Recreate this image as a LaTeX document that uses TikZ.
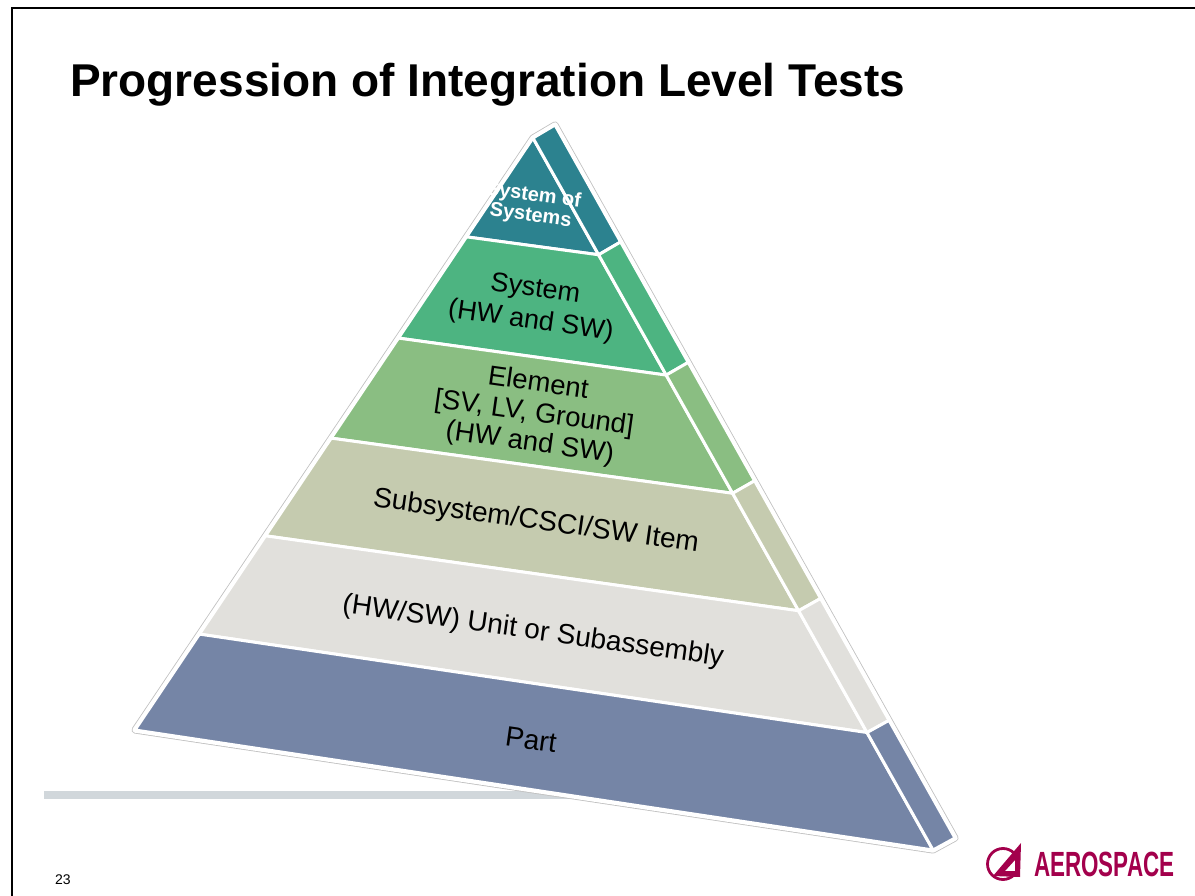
\documentclass[tikz,border=0pt]{standalone}
\usepackage{fontspec}
\setmainfont{Liberation Sans}
\usepackage{graphicx}
\usetikzlibrary{calc}
\definecolor{cSoS}{HTML}{2C828F}
\definecolor{cSys}{HTML}{4DB481}
\definecolor{cElem}{HTML}{8ABE82}
\definecolor{cSub}{HTML}{C5CBAF}
\definecolor{cUnit}{HTML}{E1E0DC}
\definecolor{cPart}{HTML}{7585A6}
\definecolor{cBar}{HTML}{D1D7DB}
\definecolor{cLogo}{HTML}{A3004C}
\begin{document}
\begin{tikzpicture}[x=1pt,y=-1pt,
  band/.style={draw=white,line width=3,line join=round},
  lbl/.style={align=center,rotate=-8,inner sep=0,font=\fontsize{28}{32}\selectfont},
  lblsmall/.style={align=center,rotate=-8,inner sep=0,font=\fontsize{27.5}{30}\selectfont}]
\useasboundingbox (0,0) rectangle (1195,896);
\fill[white] (0,0) rectangle (1195,896);
% frame
\draw[black,line width=2.5] (12,896) -- (12,8) -- (1195,8);
% title
\node[anchor=base west,inner sep=0,font=\fontsize{46}{50}\selectfont\bfseries] (title) at (70,97) {Progression of Integration Level Tests};
% gray bar
\fill[cBar] (44,791) rectangle (620,799);
% geometry
\coordinate (A) at (533,138);
\coordinate (BL) at (135,730);
\coordinate (BR) at (933,850);
\coordinate (S) at (555,125);
\coordinate (SB) at (955,838);
\foreach \k/\tl/\tr in {1/0.167/0.164,2/0.338/0.333,3/0.507/0.499,4/0.672/0.664,5/0.838/0.835}{
  \coordinate (L\k) at ($(A)!\tl!(BL)$);
  \coordinate (R\k) at ($(A)!\tr!(BR)$);
  \coordinate (S\k) at ($(S)!\tr!(SB)$);
}
% outer outline
\draw[gray!50,line width=7,line join=round] (BL) -- (A) -- (S) -- (SB) -- (BR) -- cycle;
\draw[white,line width=5.4,line join=round] (BL) -- (A) -- (S) -- (SB) -- (BR) -- cycle;
% front bands
\filldraw[band,fill=cSoS] (A) -- (R1) -- (L1) -- cycle;
\filldraw[band,fill=cSys] (L1) -- (R1) -- (R2) -- (L2) -- cycle;
\filldraw[band,fill=cElem] (L2) -- (R2) -- (R3) -- (L3) -- cycle;
\filldraw[band,fill=cSub] (L3) -- (R3) -- (R4) -- (L4) -- cycle;
\filldraw[band,fill=cUnit] (L4) -- (R4) -- (R5) -- (L5) -- cycle;
\filldraw[band,fill=cPart] (L5) -- (R5) -- (BR) -- (BL) -- cycle;
% side bands
\filldraw[band,fill=cSoS] (A) -- (S) -- (S1) -- (R1) -- cycle;
\filldraw[band,fill=cSys] (R1) -- (S1) -- (S2) -- (R2) -- cycle;
\filldraw[band,fill=cElem] (R2) -- (S2) -- (S3) -- (R3) -- cycle;
\filldraw[band,fill=cSub] (R3) -- (S3) -- (S4) -- (R4) -- cycle;
\filldraw[band,fill=cUnit] (R4) -- (S4) -- (S5) -- (R5) -- cycle;
\filldraw[band,fill=cPart] (R5) -- (S5) -- (SB) -- (BR) -- cycle;
% labels
\node[align=center,rotate=-8,inner sep=0,text=white,font=\fontsize{20}{20.5}\selectfont\bfseries] (sos) at (532,206) {System of\\Systems};
\node[lblsmall,font=\fontsize{27}{32}\selectfont] (sys) at (533,306) {System\\(HW and SW)};
\node[lblsmall] (elem) at (534,414) {Element\\{[SV, LV, Ground]}\\(HW and SW)};
\node[lbl] (sub) at (536,522) {Subsystem/CSCI/SW Item};
\node[lbl] (unit) at (533,632) {(HW/SW) Unit or Subassembly};
\node[lbl] (part) at (531,740) {Part};
% page number
\node[anchor=base west,inner sep=0,font=\fontsize{14}{16}\selectfont] (pnum) at (55,884) {23};
% logo
\draw[cLogo,line width=2.8] (1003,864) circle (15.5);
\fill[cLogo,even odd rule] (993,876) -- (1021,843) -- (1020,877) -- cycle
  (1005,871) -- (1015,860) -- (1015,871) -- cycle;
\node[anchor=base west,inner sep=0,text=cLogo] (logo) at (1034,876) {\scalebox{0.64}[1]{\fontsize{35}{35}\selectfont\bfseries AEROSPACE}};
\end{tikzpicture}
\end{document}
